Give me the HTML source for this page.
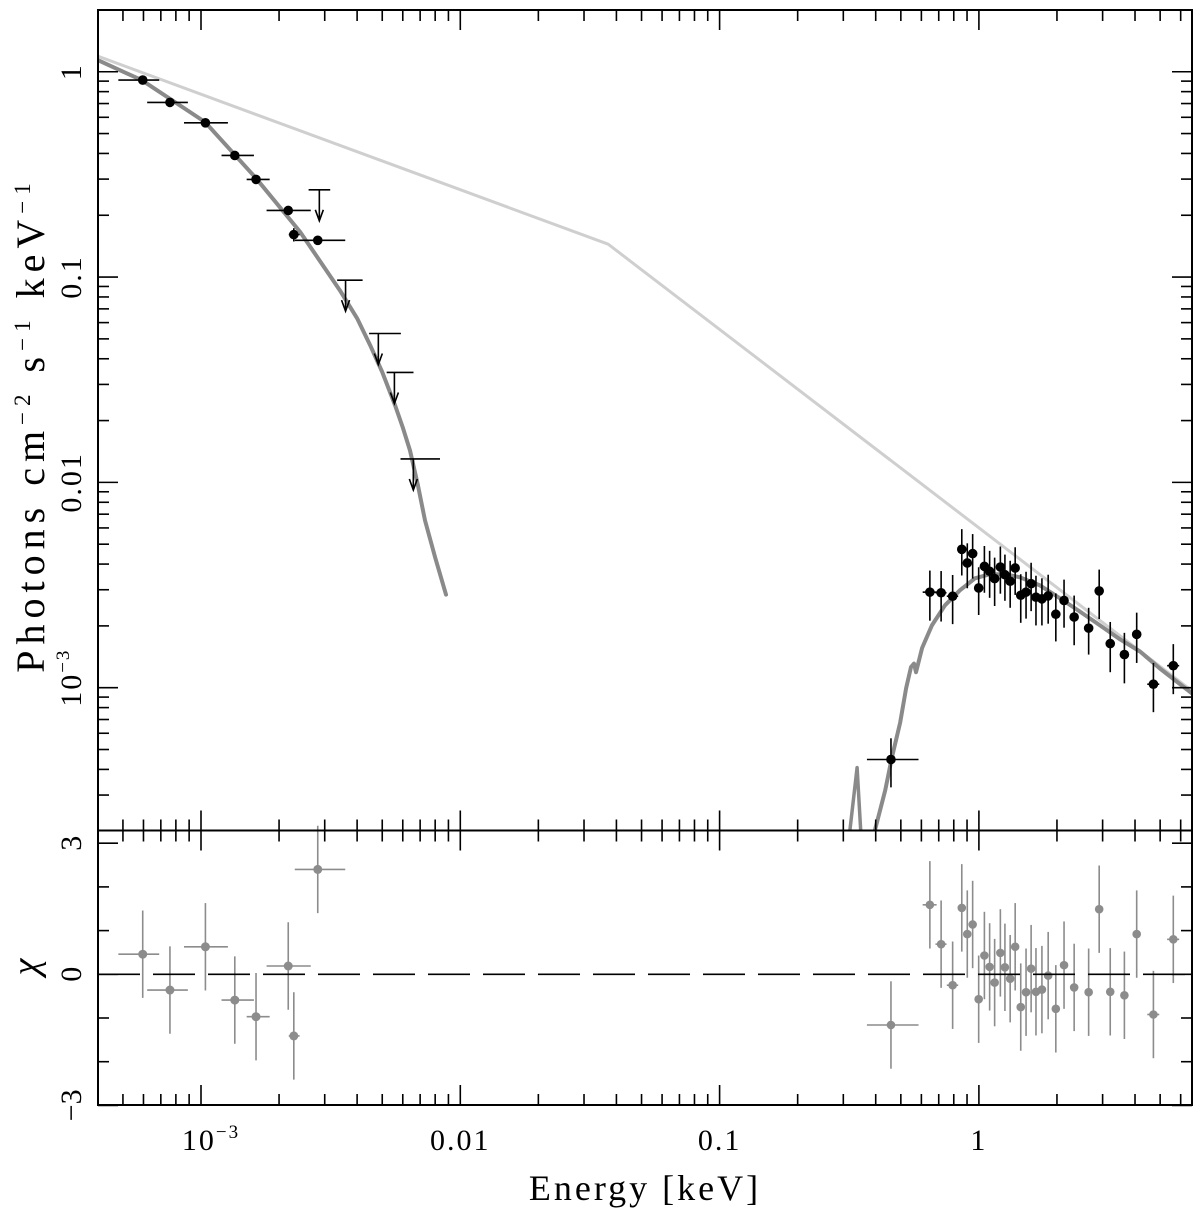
<!DOCTYPE html>
<html><head><meta charset="utf-8">
<style>
html,body{margin:0;padding:0;background:#fff;}
svg{display:block;font-family:"Liberation Serif","DejaVu Serif",serif;}
</style></head>
<body>
<svg id="chart" width="1200" height="1210" viewBox="0 0 1200 1210" xmlns="http://www.w3.org/2000/svg">
<rect x="0" y="0" width="1200" height="1210" fill="#fff"/>
<g id="gModels"></g>
<g id="gData"></g>
<g id="gResid"></g>
<g id="gAxes"></g>
<text transform="translate(44,425) rotate(-90)" text-anchor="middle" font-size="40" letter-spacing="6" fill="#000">Photons cm<tspan dy="-14" font-size="23">−2</tspan><tspan dy="14"> s</tspan><tspan dy="-14" font-size="23">−1</tspan><tspan dy="14"> keV</tspan><tspan dy="-14" font-size="23">−1</tspan></text>
<text transform="translate(38,967) rotate(-90)" text-anchor="middle" font-size="38" font-style="italic" fill="#000">χ</text>
<text x="645" y="1200" text-anchor="middle" font-size="36" letter-spacing="3" fill="#000">Energy [keV]</text>
</svg>
<script>
// ---- Data ----
const lowE = [5.96e-4, 7.59e-4, 1.04e-3, 1.35e-3, 1.63e-3, 2.17e-3, 2.28e-3, 2.82e-3];
const lowELo = [4.8e-4, 6.2e-4, 8.6e-4, 1.2e-3, 1.5e-3, 1.79e-3, 2.18e-3, 2.3e-3];
const lowEHi = [6.9e-4, 8.9e-4, 1.27e-3, 1.6e-3, 1.84e-3, 2.65e-3, 2.4e-3, 3.6e-3];
const lowF = [0.911, 0.709, 0.564, 0.391, 0.299, 0.211, 0.161, 0.151];
const lowFErr = [0.03, 0.02, 0.02, 0.012, 0.009, 0.006, 0.012, 0.005];
const lowChi = [0.46, -0.36, 0.63, -0.59, -0.97, 0.19, -1.41, 2.40];
const ulE = [2.86e-3, 3.61e-3, 4.83e-3, 5.57e-3, 6.59e-3];
const ulELo = [2.6e-3, 3.35e-3, 4.45e-3, 5.2e-3, 5.88e-3];
const ulEHi = [3.15e-3, 4.2e-3, 5.9e-3, 6.6e-3, 8.35e-3];
const ulF = [0.266, 0.0966, 0.0531, 0.0343, 0.0130];
const xE = [0.647,0.715,0.792,0.859,0.902,0.946,0.998,1.05,1.10,1.15,1.21,1.26,1.32,1.38,1.45,1.52,1.59,1.66,1.75,1.85,1.98,2.13,2.33,2.65,2.91,3.21,3.64,4.06,4.71,5.62,0.458];
const xEErr = [0.04,0.035,0.04,0.015,0.015,0.015,0.02,0.02,0.02,0.02,0.02,0.02,0.025,0.025,0.025,0.03,0.03,0.03,0.03,0.035,0.04,0.04,0.05,0.08,0.06,0.1,0.11,0.12,0.25,0.3,0.1];
const xF = [2.92e-3,2.90e-3,2.79e-3,4.72e-3,4.05e-3,4.50e-3,3.06e-3,3.90e-3,3.69e-3,3.40e-3,3.87e-3,3.55e-3,3.30e-3,3.83e-3,2.82e-3,2.92e-3,3.21e-3,2.76e-3,2.71e-3,2.80e-3,2.28e-3,2.66e-3,2.21e-3,1.95e-3,2.96e-3,1.64e-3,1.45e-3,1.82e-3,1.04e-3,1.28e-3,4.47e-4];
const xFErr = [0.8e-3,0.8e-3,0.75e-3,1.2e-3,1.0e-3,1.1e-3,0.8e-3,1.0e-3,0.95e-3,0.9e-3,1.0e-3,0.9e-3,0.85e-3,1.0e-3,0.75e-3,0.75e-3,0.85e-3,0.75e-3,0.7e-3,0.75e-3,0.6e-3,0.7e-3,0.6e-3,0.5e-3,0.8e-3,0.45e-3,0.4e-3,0.5e-3,0.28e-3,0.35e-3,0.12e-3];
const xChi = [1.59,0.69,-0.25,1.52,0.92,1.14,-0.57,0.43,0.17,-0.19,0.49,0.16,-0.10,0.63,-0.75,-0.41,0.13,-0.40,-0.35,-0.03,-0.79,0.21,-0.30,-0.41,1.49,-0.40,-0.48,0.92,-0.92,0.80,-1.16];
const unabsE = [4.0e-4, 0.0372, 6.6];
const unabsF = [1.19, 0.1445, 9.7e-4];
const optModelE = [4.0e-4,5.9e-4,1.036e-3,1.63e-3,2.41e-3,3.43e-3,4.0e-3,4.49e-3,5.0e-3,5.60e-3,6.0e-3,6.40e-3,6.85e-3,7.31e-3,8.0e-3,8.81e-3];
const optModelF = [1.14,0.911,0.569,0.303,0.166,0.0863,0.0630,0.0466,0.0345,0.0238,0.0185,0.0143,0.0098,6.53e-3,4.3e-3,2.84e-3];
const xrModelE = [0.397,0.435,0.462,0.497,0.524,0.547,0.562,0.572,0.604,0.659,0.740,0.845,0.966,1.104,1.26,1.44,1.72,2.06,2.45,2.93,3.50,4.18,4.99,6.64];
const xrModelF = [2.02e-4,3.16e-4,4.57e-4,6.78e-4,9.93e-4,1.26e-3,1.31e-3,1.19e-3,1.56e-3,2.01e-3,2.52e-3,2.98e-3,3.41e-3,3.57e-3,3.57e-3,3.45e-3,3.15e-3,2.72e-3,2.35e-3,2.01e-3,1.72e-3,1.50e-3,1.24e-3,9.37e-4];
const spikeE = [0.318, 0.339, 0.350];
const spikeF = [2.02e-4, 4.08e-4, 2.02e-4];
const xTickVals = [1e-3, 0.01, 0.1, 1];
const xTickLabels = ["10", "0.01", "0.1", "1"];
const yTickVals = [1, 0.1, 0.01, 1e-3];
const yTickLabels = ["1", "0.1", "0.01", "10"];
const rTickVals = [3, 0, -3];
const rTickLabels = ["3", "0", "−3"];

const L = 98, R = 1192, T = 10, MID = 830.5, B = 1105;
const logEmin = -3 - (201 - L) / 259.3, logEmax = -3 + (R - 201) / 259.3;
const yLogTop = 0.3007, yLogBot = -3.6955;
function sx(e){ return L + (Math.log10(e) - logEmin) / (logEmax - logEmin) * (R - L); }
function sy(f){ return T + (yLogTop - Math.log10(f)) / (yLogTop - yLogBot) * (MID - T); }
function sr(c){ return 974.3 - c * 43.7; }
const NS = "http://www.w3.org/2000/svg";
function mk(tag, attrs, parent){ const el = document.createElementNS(NS, tag); for (const k in attrs) el.setAttribute(k, attrs[k]); parent.appendChild(el); return el; }

const gM = document.getElementById('gModels');
const gD = document.getElementById('gData');
const gR = document.getElementById('gResid');
const gA = document.getElementById('gAxes');

const defs = mk('defs', {}, document.getElementById('chart'));
const cp = mk('clipPath', {id: 'topClip'}, defs);
mk('rect', {x: L, y: T, width: R - L, height: MID - T}, cp);
gM.setAttribute('clip-path', 'url(#topClip)');

function poly(E, F, color, w, name){
  const pts = E.map((e, i) => sx(e).toFixed(1) + ',' + sy(F[i]).toFixed(1)).join(' ');
  const p = mk('polyline', {points: pts, fill: 'none', stroke: color, 'stroke-width': w, 'stroke-linejoin': 'round', 'stroke-linecap': 'round'}, gM);
  
  
}
poly(unabsE, unabsF, '#cfcfcf', 3, 'unabsorbed-model-line');
poly(optModelE, optModelF, '#8a8a8a', 4, 'optical-model-line');
poly(xrModelE, xrModelF, '#8a8a8a', 4, 'xray-model-line');
poly(spikeE, spikeF, '#8a8a8a', 3.5, 'xray-model-edge-spike');

function line(g, x1, y1, x2, y2, color, w){ return mk('line', {x1, y1, x2, y2, stroke: color, 'stroke-width': w}, g); }

lowE.forEach((e, i) => {
  const g = mk('g', {}, gD);
  
  
  const x = sx(e), y = sy(lowF[i]);
  line(g, sx(lowELo[i]), y, sx(lowEHi[i]), y, '#000', 1.6);
  line(g, x, sy(lowF[i] + lowFErr[i]), x, sy(lowF[i] - lowFErr[i]), '#000', 1.6);
  mk('circle', {cx: x, cy: y, r: 4.8, fill: '#000'}, g);
  const gr = mk('g', {}, gR);
  
  
  const yr = sr(lowChi[i]);
  line(gr, sx(lowELo[i]), yr, sx(lowEHi[i]), yr, '#8c8c8c', 1.6);
  line(gr, x, sr(lowChi[i] + 1), x, sr(lowChi[i] - 1), '#8c8c8c', 1.6);
  mk('circle', {cx: x, cy: yr, r: 4.5, fill: '#8c8c8c'}, gr);
});
ulE.forEach((e, i) => {
  const g = mk('g', {}, gD);
  
  
  const x = sx(e), y = sy(ulF[i]);
  line(g, sx(ulELo[i]), y, sx(ulEHi[i]), y, '#000', 1.6);
  line(g, x, y, x, y + 30, '#000', 1.6);
  mk('polyline', {points: `${x-4},${y+20} ${x},${y+31} ${x+4},${y+20}`, fill: 'none', stroke: '#000', 'stroke-width': 1.6}, g);
});
xE.forEach((e, i) => {
  const g = mk('g', {}, gD);
  
  
  const x = sx(e), y = sy(xF[i]);
  const lo = e - xEErr[i], hi = e + xEErr[i];
  line(g, sx(i === 30 ? 0.37 : lo), y, sx(i === 30 ? 0.585 : hi), y, '#000', 1.6);
  line(g, x, sy(xF[i] + xFErr[i]), x, sy(xF[i] - xFErr[i]), '#000', 1.6);
  mk('circle', {cx: x, cy: y, r: 4.8, fill: '#000'}, g);
  const gr = mk('g', {}, gR);
  
  
  const yr = sr(xChi[i]);
  line(gr, sx(i === 30 ? 0.37 : lo), yr, sx(i === 30 ? 0.585 : hi), yr, '#8c8c8c', 1.6);
  line(gr, x, sr(xChi[i] + 1), x, sr(xChi[i] - 1), '#8c8c8c', 1.6);
  mk('circle', {cx: x, cy: yr, r: 4.3, fill: '#8c8c8c'}, gr);
});

const zl = line(gA, L, sr(0), R, sr(0), '#000', 1.6);
zl.setAttribute('stroke-dasharray', '42 13');



[[T, MID], [MID, B]].forEach(([a, b], k) => {
  const r = mk('rect', {x: L, y: a, width: R - L, height: b - a, fill: 'none', stroke: '#000', 'stroke-width': 2}, gA);
  
  
});

for (let d = -4; d <= 1; d++) {
  for (let m = 1; m <= 9; m++) {
    const v = m * Math.pow(10, d);
    const x = sx(v);
    if (x < L + 1 || x > R - 1) continue;
    const len = m === 1 ? 20 : 11;
    line(gA, x, T, x, T + len, '#000', 1.6);
    line(gA, x, MID, x, MID - len, '#000', 1.6);
    line(gA, x, MID, x, MID + len, '#000', 1.6);
    line(gA, x, B, x, B - len, '#000', 1.6);
  }
}
for (let d = -4; d <= 0; d++) {
  for (let m = 1; m <= 9; m++) {
    const v = m * Math.pow(10, d);
    const y = sy(v);
    if (y < T + 1 || y > MID - 1) continue;
    const len = m === 1 ? 20 : 11;
    line(gA, L, y, L + len, y, '#000', 1.6);
    line(gA, R, y, R - len, y, '#000', 1.6);
  }
}
for (let c = -3; c <= 3; c++) {
  const y = sr(c);
  const len = (c % 3 === 0) ? 20 : 11;
  line(gA, L, y, L + len, y, '#000', 1.6);
  line(gA, R, y, R - len, y, '#000', 1.6);
}

xTickVals.forEach((v, i) => {
  const t = mk('text', {x: sx(v), y: 1150, 'text-anchor': 'middle', 'font-size': 30, 'letter-spacing': 2, fill: '#000'}, gA);
  t.textContent = xTickLabels[i];
  if (i === 0) { const s = mk('tspan', {dy: -12, 'font-size': 19}, t); s.textContent = '−3'; t.setAttribute('x', sx(v) + 10); }
  
  
});
yTickVals.forEach((v, i) => {
  const y = sy(v);
  const t = mk('text', {transform: `translate(81,${y}) rotate(-90)`, 'text-anchor': 'middle', 'font-size': 30, 'letter-spacing': 2, fill: '#000'}, gA);
  t.textContent = yTickLabels[i];
  if (i === 3) { const s = mk('tspan', {dy: -12, 'font-size': 19}, t); s.textContent = '−3'; t.setAttribute('transform', `translate(81,${y - 10}) rotate(-90)`); }
  
  
});
rTickVals.forEach((v, i) => {
  const y = sr(v);
  const t = mk('text', {transform: `translate(81,${y}) rotate(-90)`, 'text-anchor': 'middle', 'font-size': 30, fill: '#000'}, gA);
  t.textContent = rTickLabels[i];
  
  
});
</script>
</body></html>
